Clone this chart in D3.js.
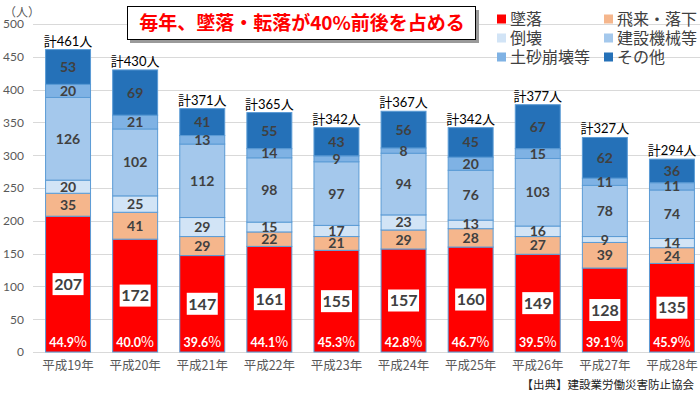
<!DOCTYPE html>
<html>
<head>
<meta charset="utf-8">
<script src="https://cdn.jsdelivr.net/npm/d3@7"></script>
<style>
  body { margin: 0; background: #fff; }
  svg { display: block; font-family: Lato, 'Noto Sans CJK JP', sans-serif; }
</style>
</head>
<body>
<div id="chart"></div>
<script>
const years = ['平成19年', '平成20年', '平成21年', '平成22年', '平成23年', '平成24年', '平成25年', '平成26年', '平成27年', '平成28年'];
const fall = [207, 172, 147, 161, 155, 157, 160, 149, 128, 135];
const flying = [35, 41, 29, 22, 21, 29, 28, 27, 39, 24];
const collapse = [20, 25, 29, 15, 17, 23, 13, 16, 9, 14];
const machine = [126, 102, 112, 98, 97, 94, 76, 103, 78, 74];
const landslide = [20, 21, 13, 14, 9, 8, 20, 15, 11, 11];
const other = [53, 69, 41, 55, 43, 56, 45, 67, 62, 36];
const fallShare = ['44.9', '40.0', '39.6', '44.1', '45.3', '42.8', '46.7', '39.5', '39.1', '45.9'];
const yTicks = [0, 50, 100, 150, 200, 250, 300, 350, 400, 450, 500];

const seriesNames = ['墜落', '飛来・落下', '倒壊', '建設機械等', '土砂崩壊等', 'その他'];
const seriesValues = [fall, flying, collapse, machine, landslide, other];
const colors = ['#ff0000', '#f5b68c', '#d2e4f6', '#a4c8ec', '#7fb2e4', '#2571b8'];

const width = 700, height = 397;
const margin = { top: 24, bottom: 45, left: 34.5, right: -5.5 };

const rows = years.map((y, i) => {
    const r = { year: y };
    seriesNames.forEach((s, k) => { r[s] = seriesValues[k][i]; });
    return r;
});
const stacked = d3.stack().keys(seriesNames)(rows);

const svg = d3.select('#chart').append('svg')
    .attr('width', width)
    .attr('height', height);

const x = d3.scaleBand()
    .domain(years)
    .range([margin.left, width - margin.right])
    .paddingInner(0.33)
    .paddingOuter(0.165);

const y = d3.scaleLinear()
    .domain([0, 500])
    .range([height - margin.bottom, margin.top]);

// gridlines
svg.append('g')
    .selectAll('line')
    .data(yTicks)
    .join('line')
    .attr('x1', 33)
    .attr('x2', width)
    .attr('y1', d => Math.round(y(d)) + 0.5)
    .attr('y2', d => Math.round(y(d)) + 0.5)
    .attr('stroke', '#d9d9d9')
    .attr('stroke-width', 1);

// y axis labels
const yAxis = svg.append('g')
    .attr('transform', 'translate(24,0)')
    .call(d3.axisLeft(y).tickValues(yTicks).tickSize(0).tickPadding(0));
yAxis.select('.domain').remove();
yAxis.selectAll('text')
    .attr('font-size', 12)
    .attr('fill', '#595959')
    .attr('font-family', 'Lato, sans-serif');

svg.append('text')
    .attr('x', 4)
    .attr('y', 17)
    .attr('font-size', 12)
    .attr('fill', '#595959')
    .attr('font-family', "'Noto Sans CJK JP'")
    .text('（人）');

// x axis labels
const xAxis = svg.append('g')
    .attr('transform', `translate(0,${height - margin.bottom + 9})`)
    .call(d3.axisBottom(x).tickSize(0).tickPadding(0));
xAxis.select('.domain').remove();
xAxis.selectAll('text')
    .attr('font-size', 12.5)
    .attr('fill', '#595959')
    .attr('font-family', "'Noto Sans CJK JP'");

// bars
const layers = svg.append('g')
    .selectAll('g')
    .data(stacked)
    .join('g')
    .attr('fill', (d, i) => colors[i]);

layers.selectAll('rect')
    .data(d => d)
    .join('rect')
    .attr('x', d => x(d.data.year))
    .attr('width', x.bandwidth())
    .attr('y', d => y(d[1]))
    .attr('height', d => y(d[0]) - y(d[1]))
    .attr('stroke', '#5b9bd5')
    .attr('stroke-width', 1);

// segment labels (all but the bottom series)
stacked.slice(1).forEach(layer => {
    svg.append('g')
        .selectAll('text')
        .data(layer)
        .join('text')
        .attr('x', d => x(d.data.year) + x.bandwidth() / 2)
        .attr('y', d => (y(d[0]) + y(d[1])) / 2)
        .attr('dy', '0.36em')
        .attr('text-anchor', 'middle')
        .attr('font-size', 14)
        .attr('font-weight', 'bold')
        .attr('fill', '#404040')
        .text(d => d[1] - d[0]);
});

// bottom series labels in white boxes
const fallLabels = svg.append('g')
    .selectAll('g')
    .data(stacked[0])
    .join('g')
    .attr('transform', d => `translate(${x(d.data.year) + x.bandwidth() / 2},${(y(d[0]) + y(d[1])) / 2})`);
fallLabels.append('rect')
    .attr('x', -15.5)
    .attr('y', -11)
    .attr('width', 31)
    .attr('height', 22)
    .attr('fill', '#fff');
fallLabels.append('text')
    .attr('text-anchor', 'middle')
    .attr('dy', '0.36em')
    .attr('font-size', 16)
    .attr('font-weight', 'bold')
    .attr('fill', '#404040')
    .text(d => d[1] - d[0]);

// share labels at bar bottoms
const share = svg.append('g')
    .selectAll('text')
    .data(years)
    .join('text')
    .attr('x', d => x(d) + x.bandwidth() / 2)
    .attr('y', y(0) - 5)
    .attr('text-anchor', 'middle')
    .attr('fill', '#fff');
share.append('tspan')
    .attr('font-size', 12.5)
    .attr('font-weight', 'bold')
    .text((d, i) => fallShare[i]);
share.append('tspan')
    .attr('font-size', 14)
    .attr('font-family', "'Noto Sans CJK JP'")
    .text('%');

// totals above bars
const totals = years.map((yr, i) => seriesValues.reduce((s, arr) => s + arr[i], 0));
svg.append('g')
    .selectAll('text')
    .data(years)
    .join('text')
    .attr('x', d => x(d) + x.bandwidth() / 2)
    .attr('y', (d, i) => y(totals[i]) - 4)
    .attr('text-anchor', 'middle')
    .attr('font-size', 13)
    .attr('fill', '#000')
    .text((d, i) => `計${totals[i]}人`);

// title box
const title = svg.append('g');
title.append('rect')
    .attr('x', 130)
    .attr('y', 10)
    .attr('width', 349)
    .attr('height', 33)
    .attr('fill', '#9a9a9a');
title.append('rect')
    .attr('x', 127.5)
    .attr('y', 6.5)
    .attr('width', 348)
    .attr('height', 33)
    .attr('fill', '#fff')
    .attr('stroke', '#000')
    .attr('stroke-width', 1);
title.append('text')
    .attr('x', 302)
    .attr('y', 23)
    .attr('dy', '0.36em')
    .attr('text-anchor', 'middle')
    .attr('font-size', 19)
    .attr('font-weight', 'bold')
    .attr('fill', '#ff0000')
    .attr('font-family', "'Noto Sans CJK JP'")
    .text('毎年、墜落・転落が40%前後を占める');

// legend
const legend = svg.append('g')
    .selectAll('g')
    .data(seriesNames)
    .join('g')
    .attr('transform', (d, i) => `translate(${i % 2 === 0 ? 497 : 604},${19 + Math.floor(i / 2) * 19})`);
legend.append('rect')
    .attr('x', 0)
    .attr('y', -4.5)
    .attr('width', 9)
    .attr('height', 9)
    .attr('fill', (d, i) => colors[i]);
legend.append('text')
    .attr('x', 13)
    .attr('dy', '0.36em')
    .attr('font-size', 16)
    .attr('fill', '#404040')
    .attr('font-family', "'Noto Sans CJK JP'")
    .text(d => d);

// source note
svg.append('text')
    .attr('x', 694)
    .attr('y', 389)
    .attr('text-anchor', 'end')
    .attr('font-size', 11.5)
    .attr('fill', '#222')
    .attr('font-family', "'Noto Sans CJK JP'")
    .text('【出典】建設業労働災害防止協会');
</script>
</body>
</html>
